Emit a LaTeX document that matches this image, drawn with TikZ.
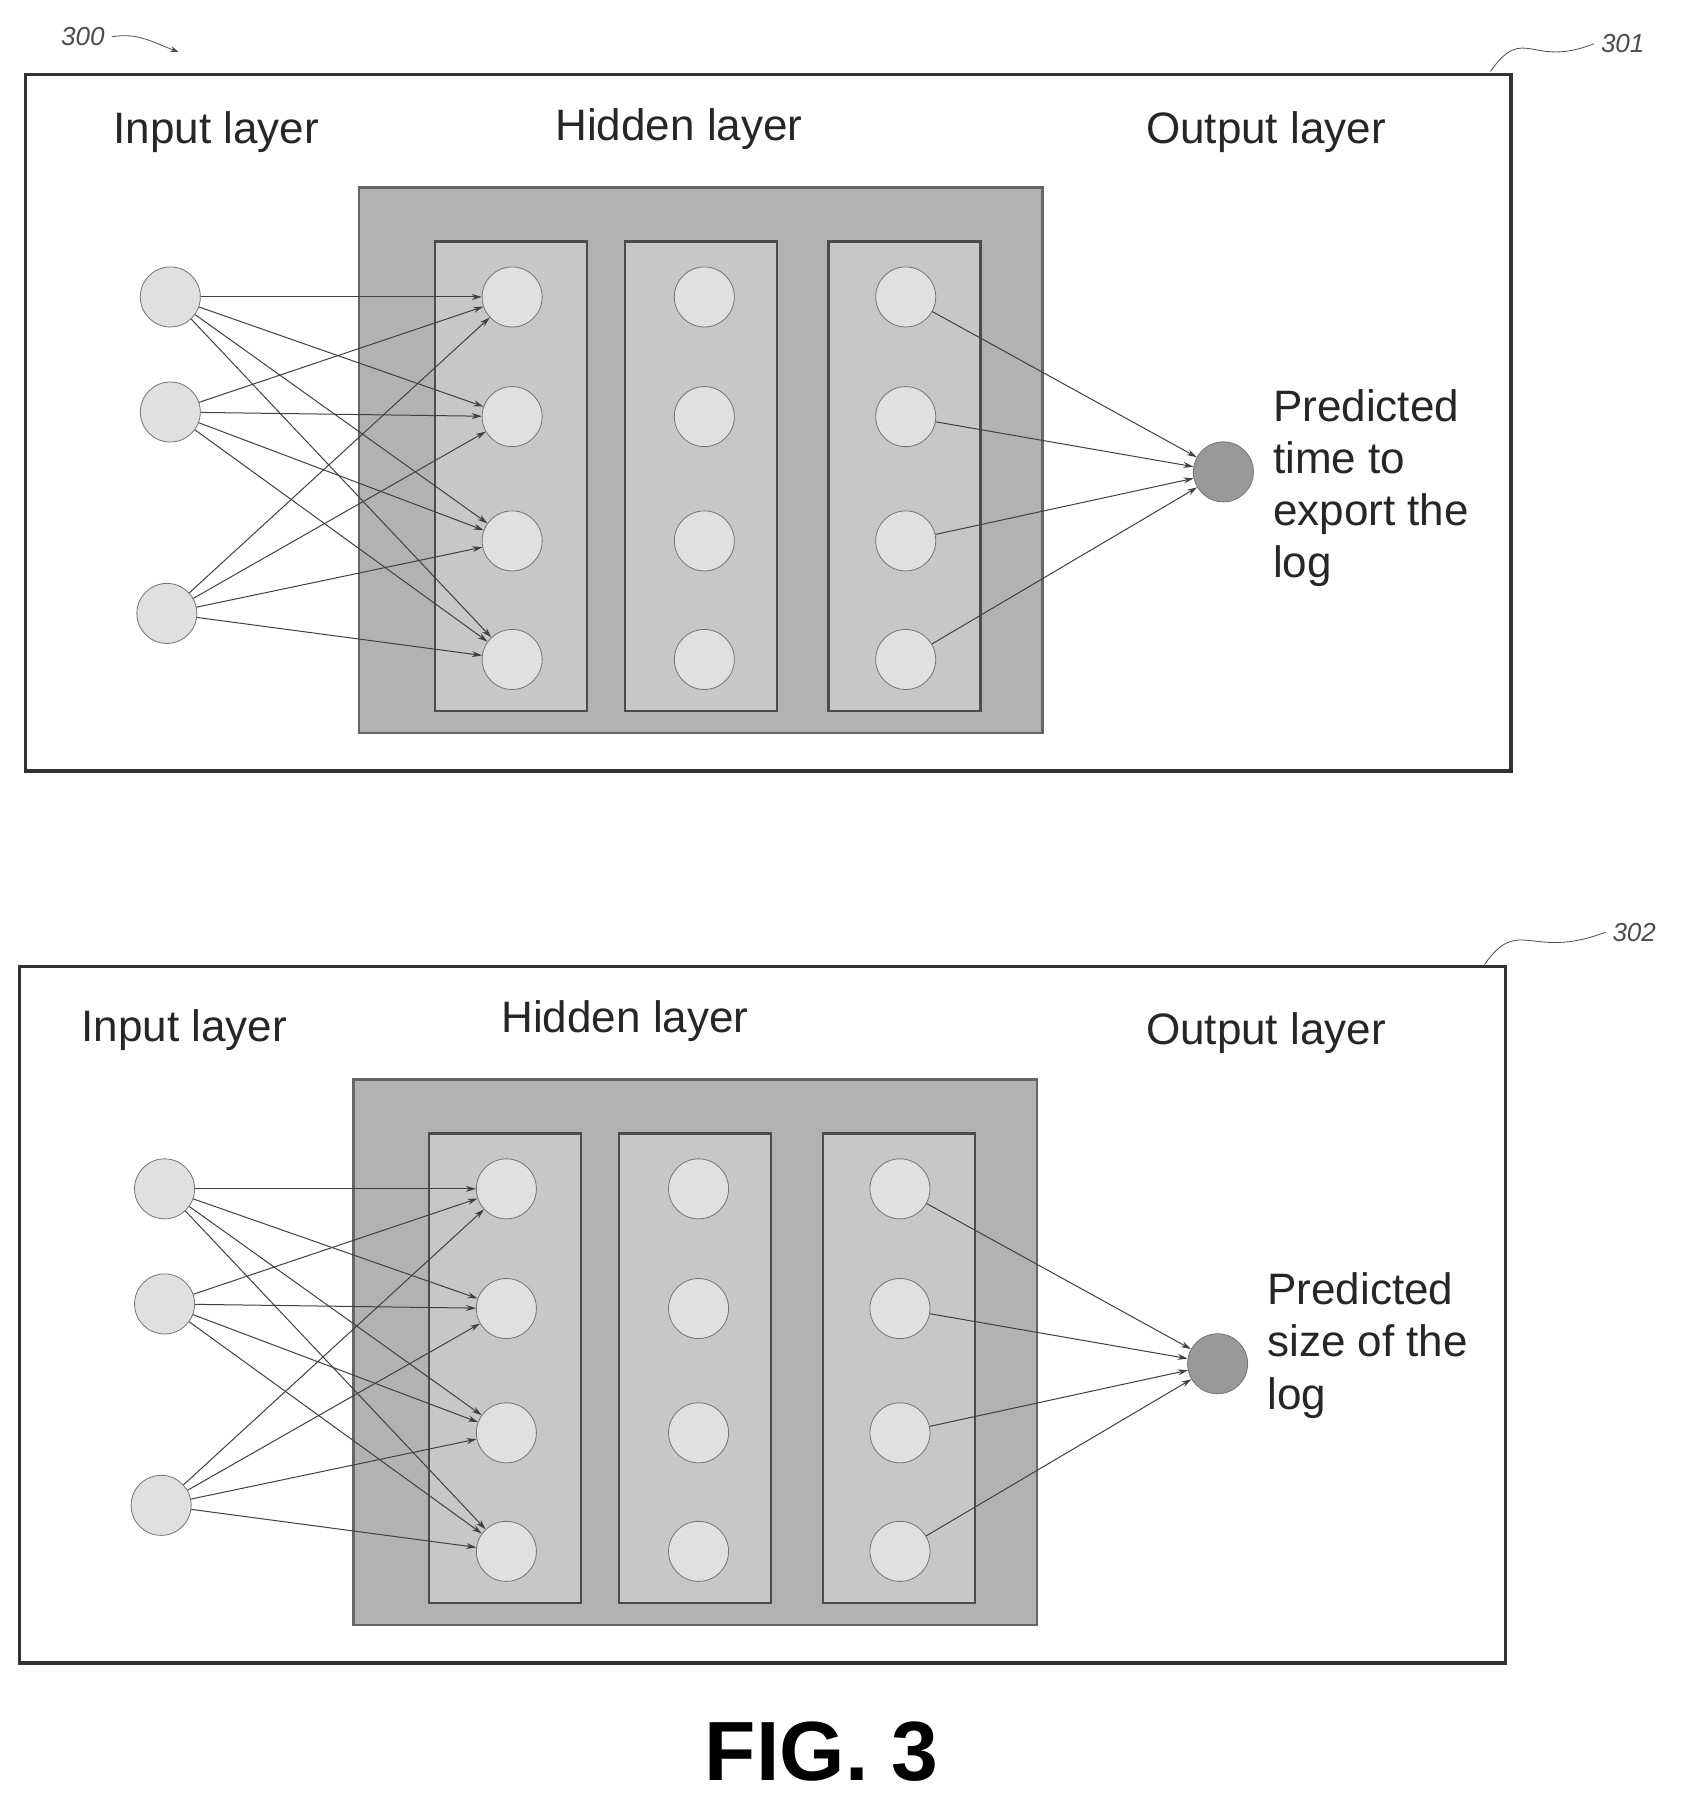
\documentclass[tikz,border=0pt]{standalone}
\usepackage{fontspec}
\setmainfont{Liberation Sans}
\usetikzlibrary{arrows.meta}

\begin{document}
\begin{tikzpicture}[x=0.575pt, y=-0.575pt,
    panel/.style={draw=black!80, line width=1.6pt},
    hidbox/.style={draw=black!60, fill=black!30, line width=1.2pt},
    column/.style={draw=black!70, fill=black!22, line width=1.2pt},
    neuron/.style={circle, draw=black!55, fill=black!12, minimum size=30pt, inner sep=0pt},
    outneuron/.style={neuron, fill=black!40},
    link/.style={black!75, line width=0.5pt, -{Stealth[length=5pt,width=3pt]}},
    lbl/.style={font=\fontsize{22}{26}\selectfont, text=black!85},
    ref/.style={font=\fontsize{13}{15}\selectfont\itshape, text=black!70}]
  \useasboundingbox (0,0) rectangle (1462,1571);

  % two networks, the second drawn 775 lower
  \foreach \p/\dx/\dy in {a/0/0, b/-5/775} {
    \begin{scope}[shift={(\dx,\dy)}]
      \draw[panel] (22,65) rectangle (1313,670);
      \draw[hidbox] (312,163) rectangle (906,637);
      \foreach \x in {378,543,720}
        \draw[column] (\x,210) rectangle (\x+132,618);
      % input layer
      \node[neuron] (\p i1) at (148,258) {};
      \node[neuron] (\p i2) at (148,358) {};
      \node[neuron] (\p i3) at (145,533) {};
      % hidden layers
      \foreach \y/\k in {258/1,362/2,470/3,573/4} {
        \node[neuron] (\p h\k) at (445,\y) {};
        \node[neuron] (\p m\k) at (612,\y) {};
        \node[neuron] (\p g\k) at (787,\y) {};
      }
      % output layer
      \node[outneuron] (\p o) at (1063,410) {};
      \foreach \i in {1,2,3}
        \foreach \k in {1,2,3,4}
          \draw[link] (\p i\i) -- (\p h\k);
      \foreach \k in {1,2,3,4}
        \draw[link] (\p g\k) -- (\p o);
    \end{scope}
  }

  % texts of the first panel
  \node[lbl] (ain) at (188,115) {Input layer};
  \node[lbl] (ahid) at (590,112) {Hidden layer};
  \node[lbl] (aout) at (1100,115) {Output layer};
  \node[lbl, anchor=north west, align=left] (apred) at (1100,332)
    {Predicted\\time to\\export the\\log};
  \node[ref] (n300) at (72,32) {300};
  \coordinate (c300) at (155,45);
  \draw[black!70, -{Stealth[length=4pt]}] (n300.east) to[out=10, in=160] (c300);
  \node[ref] (n301) at (1410,38) {301};
  \coordinate (c301) at (1295,62);
  \draw[black!70] (c301) .. controls (1325,20) and (1330,60) .. (n301.west);

  % texts of the second panel
  \node[lbl] (bin) at (160,895) {Input layer};
  \node[lbl] (bhid) at (543,887) {Hidden layer};
  \node[lbl] (bout) at (1100,898) {Output layer};
  \node[lbl, anchor=north west, align=left] (bpred) at (1095,1100)
    {Predicted\\size of the\\log};
  \node[ref] (n302) at (1420,810) {302};
  \coordinate (c302) at (1290,838);
  \draw[black!70] (c302) .. controls (1320,795) and (1330,835) .. (n302.west);

  \node[font=\fontsize{42}{48}\selectfont\bfseries] (fig) at (714,1522) {FIG. 3};
\end{tikzpicture}
\end{document}
